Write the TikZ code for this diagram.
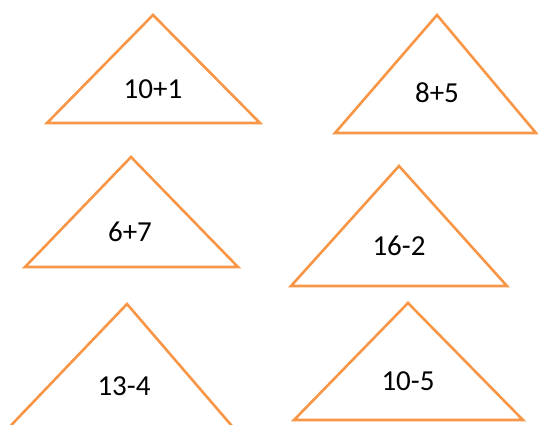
\documentclass[tikz,border=0pt]{standalone}
\usepackage{fontspec}
\setmainfont{Carlito}
\usepackage{xcolor}
\definecolor{SumOrange}{HTML}{F79646}
\tikzset{
    % triangle outline
    sumtri/.style={
        draw=SumOrange,
        line width=2.6pt,
        line join=miter
    },
    % sum text
    sumtext/.style={
        anchor=base,
        inner sep=0pt,
        font=\fontsize{29}{31}\selectfont
    }
}
\begin{document}
\begin{tikzpicture}[x=1pt,y=-1pt]
    \useasboundingbox (0,0) rectangle (538,424);
    \clip (0,0) rectangle (538,424);

    \draw[sumtri] (153,15) -- (260,123) -- (47,123) -- cycle;
    \node[sumtext] (s1) at (153,98) {10+1};

    \draw[sumtri] (437,15) -- (536,133) -- (335,133) -- cycle;
    \node[sumtext] (s2) at (437,102) {8+5};

    \draw[sumtri] (131,157) -- (238,267) -- (25,267) -- cycle;
    \node[sumtext] (s3) at (130,241) {6+7};

    \draw[sumtri] (399,166) -- (507,286) -- (291,286) -- cycle;
    \node[sumtext] (s4) at (399,255) {16-2};

    \draw[sumtri] (127,304) -- (244,440) -- (-3,440) -- cycle;
    \node[sumtext] (s5) at (124,395) {13-4};

    \draw[sumtri] (408,303) -- (523,420) -- (294,420) -- cycle;
    \node[sumtext] (s6) at (408,390) {10-5};
\end{tikzpicture}
\end{document}
